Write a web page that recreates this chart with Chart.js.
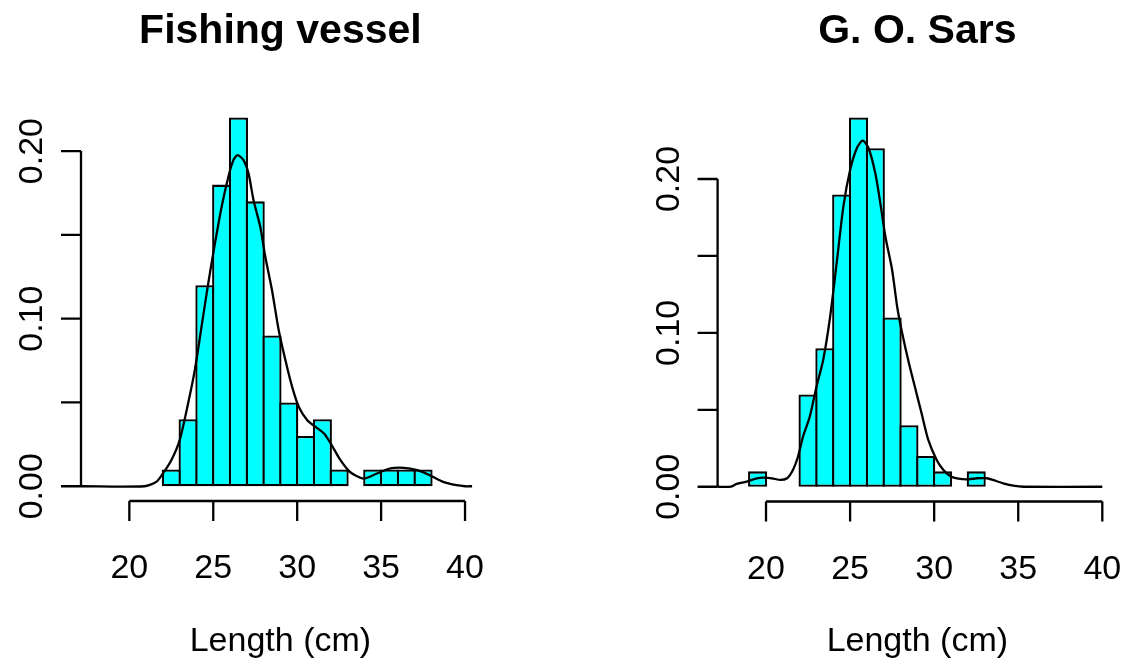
<!DOCTYPE html>
<html>
<head>
<meta charset="utf-8">
<script src="https://cdn.jsdelivr.net/npm/chart.js@4.4.1/dist/chart.umd.min.js"></script>
<style>
  html, body { margin: 0; padding: 0; background: #fff; }
  #wrap { position: relative; width: 1125px; height: 659px; }
  canvas { position: absolute; top: 0; }
  #c1 { left: 0; }
  #c2 { left: 562px; }
</style>
</head>
<body>
<div id="wrap">
  <canvas id="c1" width="562" height="659"></canvas>
  <canvas id="c2" width="563" height="659"></canvas>
</div>
<script>
// histogram bins (1 cm wide, given by mid point) and relative frequencies
const fvBins = [22.5, 23.5, 24.5, 25.5, 26.5, 27.5, 28.5, 29.5, 30.5, 31.5, 32.5, 33.5, 34.5, 35.5, 36.5, 37.5];
const fvFreq = [0.01, 0.04, 0.12, 0.18, 0.22, 0.17, 0.09, 0.05, 0.03, 0.04, 0.01, 0, 0.01, 0.01, 0.01, 0.01];

const goBins = [19.5, 20.5, 21.5, 22.5, 23.5, 24.5, 25.5, 26.5, 27.5, 28.5, 29.5, 30.5, 31.5, 32.5];
const goFreq = [0.01, 0, 0, 0.06, 0.09, 0.19, 0.24, 0.22, 0.11, 0.04, 0.02, 0.01, 0, 0.01];

// density curves
const fvDensX = [17.1, 20.9, 21.6, 22.0, 22.5, 23.0, 23.5, 23.9, 24.3, 24.7, 25.1, 25.5, 25.9, 26.2, 26.45, 26.8, 27.1, 27.4, 27.8, 28.1, 28.5, 28.9, 29.3, 29.7, 30.1, 30.6, 31.1, 31.6, 32.0, 32.55, 33.15, 33.95, 34.75, 35.55, 36.35, 37.15, 37.9, 38.7, 39.5, 40.0, 40.42];
const fvDensY = [0, 0, 0.0026, 0.0076, 0.0155, 0.0275, 0.0494, 0.0693, 0.0951, 0.121, 0.1449, 0.1668, 0.1847, 0.1946, 0.1976, 0.1946, 0.1867, 0.1707, 0.1548, 0.1369, 0.117, 0.0931, 0.0752, 0.0593, 0.0473, 0.0394, 0.0354, 0.0315, 0.0255, 0.016, 0.0085, 0.0046, 0.0076, 0.0106, 0.011, 0.0096, 0.0066, 0.0026, 0.0006, 0, 0];

const goDensX = [17.1, 17.9, 18.25, 18.85, 19.45, 19.85, 20.35, 20.85, 21.25, 21.6, 21.9, 22.2, 22.6, 23.0, 23.4, 23.8, 24.2, 24.6, 25.0, 25.4, 25.75, 26.1, 26.5, 26.8, 27.1, 27.5, 27.8, 28.1, 28.5, 28.9, 29.25, 29.65, 30.15, 30.55, 30.95, 31.35, 31.95, 32.55, 33.15, 33.5, 34.1, 34.8, 35.3, 40.0];
const goDensY = [0, 0, 0.0018, 0.0033, 0.0055, 0.0059, 0.0055, 0.0044, 0.0055, 0.0109, 0.0195, 0.0325, 0.0455, 0.065, 0.0824, 0.1095, 0.1452, 0.182, 0.2058, 0.22, 0.2249, 0.22, 0.2037, 0.1842, 0.1625, 0.1409, 0.117, 0.0997, 0.0802, 0.0629, 0.0477, 0.0304, 0.0174, 0.0109, 0.007, 0.0055, 0.0048, 0.0055, 0.0055, 0.0044, 0.0022, 0.0005, 0, 0];

const xTicks = [20, 25, 30, 35, 40];
const yTicks = [0, 0.05, 0.10, 0.15, 0.20];
const yTickLabels = ['0.00', '', '0.10', '', '0.20'];
const xLabel = 'Length (cm)';

const FONT = "'Liberation Sans', Arial, sans-serif";
const LW = 2.3;

// R style axes, titles and labels drawn from the chart scales
const rAxes = {
  id: 'rAxes',
  afterDraw(chart, args, opts) {
    const { ctx, chartArea } = chart;
    const xs = chart.scales.x, ys = chart.scales.y;
    ctx.save();
    ctx.strokeStyle = '#000';
    ctx.fillStyle = '#000';
    ctx.lineWidth = LW;

    // x axis
    const yb = chartArea.bottom;
    ctx.beginPath();
    ctx.moveTo(xs.getPixelForValue(xTicks[0]), yb);
    ctx.lineTo(xs.getPixelForValue(xTicks[xTicks.length - 1]), yb);
    xTicks.forEach(t => {
      const px = xs.getPixelForValue(t);
      ctx.moveTo(px, yb);
      ctx.lineTo(px, yb + 20);
    });
    ctx.stroke();
    ctx.font = '34px ' + FONT;
    ctx.textAlign = 'center';
    ctx.textBaseline = 'alphabetic';
    xTicks.forEach(t => ctx.fillText(String(t), xs.getPixelForValue(t), yb + 77));

    // y axis
    const xl = chartArea.left;
    ctx.beginPath();
    ctx.moveTo(xl, ys.getPixelForValue(yTicks[0]));
    ctx.lineTo(xl, ys.getPixelForValue(yTicks[yTicks.length - 1]));
    yTicks.forEach(t => {
      const py = ys.getPixelForValue(t);
      ctx.moveTo(xl, py);
      ctx.lineTo(xl - 20, py);
    });
    ctx.stroke();
    yTicks.forEach((t, i) => {
      if (!yTickLabels[i]) return;
      ctx.save();
      ctx.translate(xl - 39, ys.getPixelForValue(t));
      ctx.rotate(-Math.PI / 2);
      ctx.fillText(yTickLabels[i], 0, 0);
      ctx.restore();
    });

    // title and x label
    const cx = (chartArea.left + chartArea.right) / 2;
    ctx.fillText(xLabel, cx, 651);
    ctx.font = 'bold 41px ' + FONT;
    ctx.fillText(opts.title, cx, 43);
    ctx.restore();
  }
};

function makeHist(id, bins, freq, densX, densY, title, pad, yMax) {
  new Chart(document.getElementById(id), {
    type: 'bar',
    data: {
      datasets: [
        {
          type: 'line',
          data: densX.map((x, i) => ({ x: x, y: densY[i] })),
          borderColor: '#000', borderWidth: LW,
          pointRadius: 0, tension: 0.25, fill: false, order: 0
        },
        {
          type: 'bar',
          data: bins.map((x, i) => ({ x: x, y: freq[i] })),
          backgroundColor: '#00ffff', borderColor: '#000', borderWidth: LW,
          borderSkipped: false, barPercentage: 1.137, categoryPercentage: 1,
          order: 1
        }
      ]
    },
    options: {
      responsive: false, animation: false, devicePixelRatio: 1,
      layout: { padding: pad },
      scales: {
        x: {
          type: 'linear', min: 17.12, max: 40.88, offset: false, display: false,
          afterBuildTicks: s => { s.ticks = xTicks.map(v => ({ value: v })); }
        },
        y: { min: -0.04 * yMax, max: 1.04 * yMax, display: false }
      },
      plugins: {
        legend: { display: false }, tooltip: { enabled: false },
        rAxes: { title: title }
      }
    },
    plugins: [rAxes]
  });
}

makeHist('c1', fvBins, fvFreq, fvDensX, fvDensY, 'Fishing vessel',
  { left: 81, right: 82.2, top: 102.8, bottom: 158 }, 0.22);
makeHist('c2', goBins, goFreq, goDensX, goDensY, 'G. O. Sars',
  { left: 155.6, right: 7.9, top: 102.7, bottom: 157.5 }, 0.24);
</script>
</body>
</html>
